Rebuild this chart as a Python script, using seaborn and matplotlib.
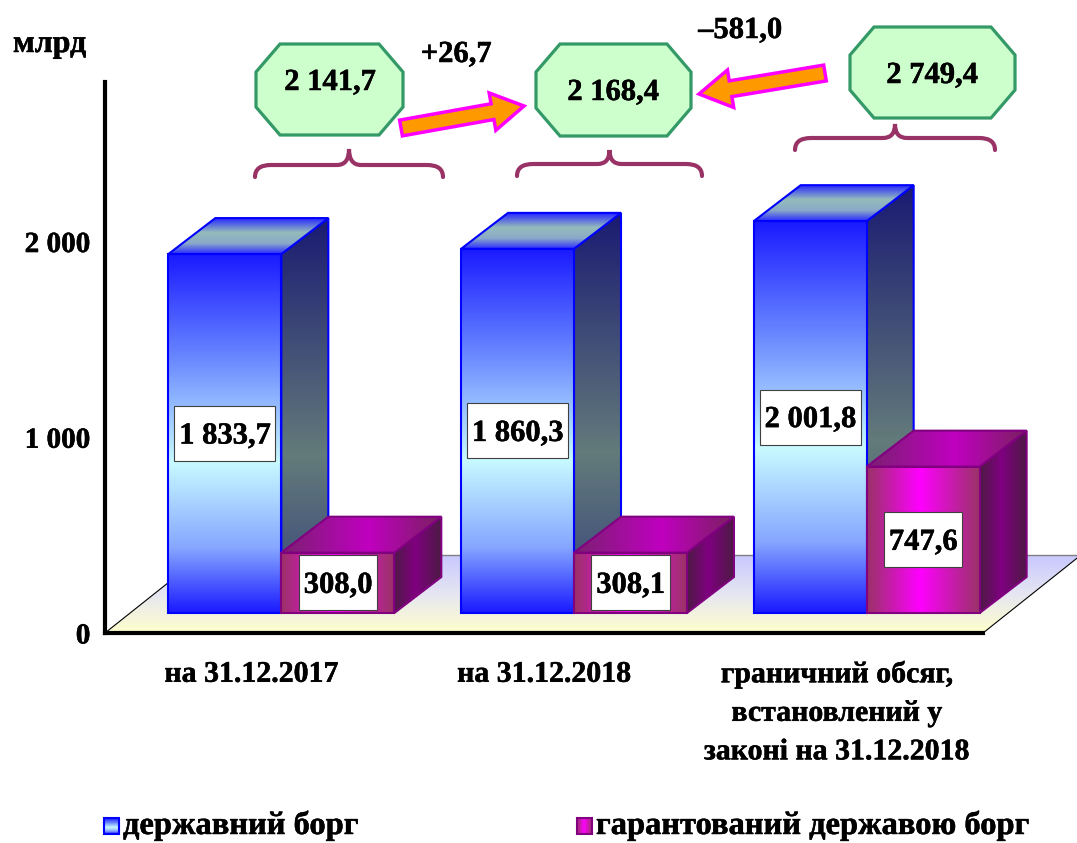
import numpy as np
import pandas as pd
import matplotlib
matplotlib.use('Agg')
import matplotlib.pyplot as plt
import matplotlib.patheffects as pe
import seaborn as sns
from matplotlib.patches import Polygon, Rectangle, FancyArrow, PathPatch
from matplotlib.path import Path
from matplotlib.colors import LinearSegmentedColormap
from matplotlib.text import Text

# ---------------- data ----------------
categories = ['на 31.12.2017', 'на 31.12.2018',
              'граничний обсяг,\nвстановлений у\nзаконі на 31.12.2018']
state_debt = [1833.7, 1860.3, 2001.8]
guaranteed_debt = [308.0, 308.1, 747.6]
series_names = ['державний борг', 'гарантований державою борг']
y_ticks = [0, 1000, 2000]
y_tick_labels = ['0', '1 000', '2 000']
unit_label = 'млрд'

totals = [a + b for a, b in zip(state_debt, guaranteed_debt)]


def fmt(v, sign=False):
    s = f"{abs(v):,.1f}".replace(',', ' ').replace('.', ',')
    if sign:
        s = ('+' if v >= 0 else '–') + s
    return s


# ---------------- figure ----------------
W, H = 1077, 843
sns.set_theme(style='white')
plt.rcParams['font.family'] = ['Liberation Serif', 'DejaVu Serif']
plt.rcParams['font.weight'] = 'bold'
for k in ['text.color', 'axes.labelcolor', 'xtick.color', 'ytick.color']:
    plt.rcParams[k] = 'black'

fig = plt.figure(figsize=(W / 100, H / 100), dpi=100)
fig.patch.set_facecolor('white')

ax_l, ax_r, ax_b, ax_t = 105, 983, 633, 82
ax = fig.add_axes([ax_l / W, (H - ax_b) / H, (ax_r - ax_l) / W, (ax_b - ax_t) / H])

df = pd.DataFrame({
    'cat': categories * 2,
    'series': [series_names[0]] * 3 + [series_names[1]] * 3,
    'value': state_debt + guaranteed_debt,
})
sns.barplot(data=df, x='cat', y='value', hue='series', order=categories,
            hue_order=series_names, width=0.772, ax=ax, legend=False,
            errorbar=None, palette=['#1414ff', '#ff00ff'])
ax.set_xlim(-0.5, 2.5)
ax.set_ylim(0, 2815)
ax.set_xlabel('')
ax.set_ylabel('')
for s in ['top', 'right']:
    ax.spines[s].set_visible(False)
for s in ['left', 'bottom']:
    ax.spines[s].set_linewidth(3)
    ax.spines[s].set_color('black')
ax.set_yticks(y_ticks)
ax.set_yticklabels(y_tick_labels, fontsize=21, fontweight='bold', color='black')
ax.tick_params(axis='y', direction='out', length=9.5, width=2.5, color='black', pad=1)
ax.set_xticks([-0.5, 0.5, 1.5, 2.5])
ax.set_xticklabels([])
ax.tick_params(axis='x', which='major', direction='out', length=9, width=3, color='black')
ax.set_xticks([0, 1, 2], minor=True)
ax.set_xticklabels(categories, minor=True, fontsize=21.5, fontweight='bold',
                   linespacing=1.55, va='top', color='black')
ax.tick_params(axis='x', which='minor', length=0, pad=20)
ax.patch.set_alpha(0)
ax.set_zorder(3)

# overlay in pixel coordinates for the pseudo-3D rendering
ov = fig.add_axes([0, 0, 1, 1])
ov.set_zorder(2)
ov.axis('off')


def to_px(x, y):
    d = ax.transData.transform((x, y))
    return d[0], H - d[1]


def grad_fill(verts, stops, direction, zorder, ec='none', lw=0):
    verts = np.asarray(verts, dtype=float)
    xmin, ymin = verts.min(0)
    xmax, ymax = verts.max(0)
    cmap = LinearSegmentedColormap.from_list('g', stops)
    n = 256
    if direction == 'v':
        arr = np.linspace(0, 1, n).reshape(n, 1)
    else:
        arr = np.linspace(0, 1, n).reshape(1, n)
    im = ov.imshow(arr, cmap=cmap, vmin=0, vmax=1,
                   extent=(xmin, xmax, ymax, ymin), origin='upper',
                   aspect='auto', interpolation='bilinear', zorder=zorder)
    poly = Polygon(verts, closed=True, facecolor='none', edgecolor=ec, lw=lw,
                   zorder=zorder + 0.01, joinstyle='miter')
    ov.add_patch(poly)
    im.set_clip_path(poly)
    return poly


# floor
fdx, fdy = 98, 78
fl = to_px(-0.5, 0)
fr = to_px(2.5, 0)
floor = [(fl[0], fl[1]), (fr[0], fr[1]), (fr[0] + fdx, fr[1] - fdy), (fl[0] + fdx, fl[1] - fdy)]
grad_fill(floor, [(0, '#c8c8ff'), (0.5, '#e6e6f2'), (1, '#ffffcc')], 'v', 1)
ov.plot([fl[0], fl[0] + fdx], [fl[1], fl[1] - fdy], color='black', lw=0.8, zorder=1.1)
ov.plot([fr[0], fr[0] + fdx], [fr[1], fr[1] - fdy], color='black', lw=0.8, zorder=1.1)
ov.plot([fl[0] + fdx, fr[0] + fdx], [fl[1] - fdy, fr[1] - fdy], color='#808080', lw=1.0, zorder=1.1)

# bar styles
off_x, off_y = 30, 20       # position of bar fronts on the floor
dx, dy = 47, 36             # bar depth
styles = [
    dict(front=([(0, '#1a1aff'), (0.3, '#6c8cff'), (0.58, '#c8faff'), (0.82, '#86a6ff'), (1, '#1a1aff')], 'v'),
         side=([(0, '#1a1a72'), (0.6, '#637b7b'), (1, '#34407a')], 'v'),
         top=([(0, '#2828ff'), (0.4, '#94bcbc'), (0.7, '#8aaac8'), (1, '#2a2aff')], 'v'),
         ec='#0000ff'),
    dict(front=([(0, '#993366'), (0.47, '#ff00ff'), (1, '#993366')], 'h'),
         side=([(0, '#4d1a44'), (0.45, '#800080'), (1, '#4d1a44')], 'h'),
         top=([(0, '#7a2070'), (0.55, '#c000c0'), (1, '#7a2060')], 'h'),
         ec='#800080'),
]

renderer = fig.canvas.get_renderer()
series_vals = [state_debt, guaranteed_debt]
z = 5
for ci in range(len(categories)):
    for si, cont in enumerate(ax.containers[:2]):
        p = cont.patches[ci]
        p.set_visible(False)
        x0, y0 = p.get_x(), p.get_y()
        x1, y1 = x0 + p.get_width(), y0 + p.get_height()
        X0, Yb = to_px(x0, y0)
        X1, Yt = to_px(x1, y1)
        X0 += off_x; X1 += off_x; Yb -= off_y; Yt -= off_y
        st = styles[si]
        side = [(X1, Yt), (X1 + dx, Yt - dy), (X1 + dx, Yb - dy), (X1, Yb)]
        top = [(X0, Yt), (X0 + dx, Yt - dy), (X1 + dx, Yt - dy), (X1, Yt)]
        front = [(X0, Yt), (X1, Yt), (X1, Yb), (X0, Yb)]
        grad_fill(side, st['side'][0], st['side'][1], z, ec=st['ec'], lw=1.5)
        grad_fill(top, st['top'][0], st['top'][1], z + 0.1, ec=st['ec'], lw=1.5)
        grad_fill(front, st['front'][0], st['front'][1], z + 0.2, ec=st['ec'], lw=1.5)
        # value label
        cx, cy = (X0 + X1) / 2, (Yt + Yb) / 2
        t = ov.text(cx, cy + 10, fmt(series_vals[si][ci]), ha='center', va='baseline',
                    fontsize=22, fontweight='bold', color='black', zorder=z + 0.4)
        bb = t.get_window_extent(renderer)
        bw = bb.width + 10
        ov.add_patch(Rectangle((cx - bw / 2, cy - 27.5), bw, 55, facecolor='white',
                               edgecolor='#404040', lw=0.8, zorder=z + 0.3))
        z += 1


# octagon total labels
def octagon(x0, y0, x1, y1, cx_, cy_, z_):
    v = [(x0 + cx_, y0), (x1 - cx_, y0), (x1, y0 + cy_), (x1, y1 - cy_),
         (x1 - cx_, y1), (x0 + cx_, y1), (x0, y1 - cy_), (x0, y0 + cy_)]
    ov.add_patch(Polygon(v, closed=True, facecolor='#ccffcc', edgecolor='#339966',
                         lw=2.3, zorder=z_, joinstyle='miter'))


oct_boxes = [(256, 44, 403, 135), (536, 44, 691, 136), (850, 27, 1015, 118)]
oct_text = [(330, 90), (613, 100), (932, 83)]
for (bx0, by0, bx1, by1), (tx, ty), tot in zip(oct_boxes, oct_text, totals):
    octagon(bx0, by0, bx1, by1, 24, 28, 30)
    ov.text(tx, ty, fmt(tot), ha='center', va='baseline', fontsize=22,
            fontweight='bold', color='black', zorder=31)


# braces
def brace(x0, x1, y_end, y_h, y_peak, z_):
    xc = (x0 + x1) / 2
    r = 16
    verts = [(x0, y_end), (x0, y_h), (x0 + r, y_h),
             (xc - 12, y_h), (xc, y_h), (xc, y_peak),
             (xc, y_h), (xc + 12, y_h),
             (x1 - r, y_h), (x1, y_h), (x1, y_end)]
    codes = [Path.MOVETO, Path.CURVE3, Path.CURVE3,
             Path.LINETO, Path.CURVE3, Path.CURVE3,
             Path.CURVE3, Path.CURVE3,
             Path.LINETO, Path.CURVE3, Path.CURVE3]
    ov.add_patch(PathPatch(Path(verts, codes), facecolor='none', edgecolor='#993366',
                           lw=3, capstyle='round', zorder=z_))


brace(255, 443, 177, 165, 149, 30)
brace(517, 702, 176, 164, 150, 30)
brace(795, 995, 150, 138, 124, 30)

# arrows with changes
arrows = [((401, 128), (524, 106)), ((825, 73), (699, 94))]
for (tx0, ty0), (tx1, ty1) in arrows:
    ov.add_patch(FancyArrow(tx0, ty0, tx1 - tx0, ty1 - ty0, width=16, head_width=38,
                            head_length=32, length_includes_head=True,
                            facecolor='#ff9900', edgecolor='#ff00ff', lw=2.5, zorder=32))
changes = [totals[1] - totals[0], totals[1] - totals[2]]
change_pos = [(456, 62), (740, 38)]
for chg, (cx, cy) in zip(changes, change_pos):
    ov.text(cx, cy, fmt(chg, sign=True), ha='center', va='baseline', fontsize=22,
            fontweight='bold', color='black', zorder=33)

# unit label
ov.text(13, 52, unit_label, ha='left', va='baseline', fontsize=23,
        fontweight='bold', color='black', zorder=33)

# legend
leg_items = [((104, 818, 119, 834), series_names[0], styles[0]),
             ((577, 818, 592, 834), series_names[1], styles[1])]
for (lx0, ly0, lx1, ly1), name, st in leg_items:
    grad_fill([(lx0, ly0), (lx1, ly0), (lx1, ly1), (lx0, ly1)],
              st['front'][0], st['front'][1], 40, ec=st['ec'], lw=1.5)
    ov.text(lx1 + 4, (ly0 + ly1) / 2, name, ha='left', va='center', fontsize=23.4,
            fontweight='bold', color='black', zorder=41)

ov.set_xlim(0, W)
ov.set_ylim(H, 0)

# slightly heavier text strokes, like the reference's bold serif
for t in fig.findobj(Text):
    if t.get_text():
        t.set_path_effects([pe.withStroke(linewidth=0.35, foreground='black')])

fig.savefig('out.png', dpi=100, facecolor='white')
